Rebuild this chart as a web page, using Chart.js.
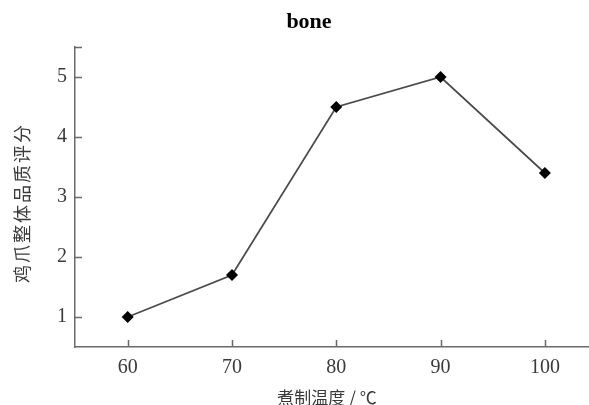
<!DOCTYPE html>
<html>
<head>
<meta charset="utf-8">
<script src="https://cdn.jsdelivr.net/npm/chart.js@4/dist/chart.umd.min.js"></script>
<style>
  html, body { margin: 0; padding: 0; background: #fff; }
  canvas { display: block; }
</style>
</head>
<body>
<canvas id="c" width="589" height="405"></canvas>
<script>
// Cooking temperature (°C) and the overall quality score of the chicken feet
const temperatures = [60, 70, 80, 90, 100];
const scores = [1.0, 1.7, 4.5, 5.0, 3.4];
const yTickValues = [1, 2, 3, 4, 5];
const xTickValues = [60, 70, 80, 90, 100];

const chartTitle = 'bone';
const xTitle = '煮制温度 / ℃';
const yTitle = '鸡爪整体品质评分';

const axisColor = '#6a6a6a';
const textColor = '#3a3a3a';

// Short tick marks pointing into the plot area, plus the titles
const decorations = {
  id: 'decorations',
  afterDraw(chart) {
    const { ctx, chartArea, scales } = chart;
    const x = scales.x, y = scales.y;
    ctx.save();
    ctx.strokeStyle = axisColor;
    ctx.lineWidth = 1.5;
    ctx.beginPath();
    yTickValues.concat([y.max]).forEach(v => {
      const py = Math.round(y.getPixelForValue(v)) + 0.5;
      ctx.moveTo(chartArea.left, py);
      ctx.lineTo(chartArea.left + 7, py);
    });
    xTickValues.forEach(v => {
      const px = Math.round(x.getPixelForValue(v)) + 0.5;
      ctx.moveTo(px, chartArea.bottom);
      ctx.lineTo(px, chartArea.bottom - 7);
    });
    ctx.stroke();

    ctx.fillStyle = '#000';
    ctx.textAlign = 'center';
    ctx.textBaseline = 'alphabetic';
    ctx.font = 'bold 22px "Liberation Serif", serif';
    ctx.fillText(chartTitle, 309, 28);

    ctx.fillStyle = textColor;
    ctx.textBaseline = 'middle';
    ctx.font = '17px "Noto Sans CJK SC", sans-serif';
    ctx.fillText(xTitle, 327, 398);

    ctx.translate(22, 203);
    ctx.rotate(-Math.PI / 2);
    ctx.font = '18px "Noto Sans CJK SC", sans-serif';
    ctx.letterSpacing = '2px';
    ctx.fillText(yTitle, 0, 0);
    ctx.restore();
  }
};

new Chart(document.getElementById('c'), {
  type: 'line',
  data: {
    datasets: [{
      data: temperatures.map((t, i) => ({ x: t, y: scores[i] })),
      borderColor: '#4a4a4a',
      borderWidth: 1.7,
      pointStyle: 'rectRot',
      pointRadius: 6,
      pointHoverRadius: 6,
      pointBackgroundColor: '#000',
      pointBorderColor: '#000',
      pointBorderWidth: 0,
      tension: 0,
      fill: false,
      clip: false
    }]
  },
  options: {
    responsive: false,
    animation: false,
    layout: { autoPadding: false, padding: { top: 47, right: 0, left: 0, bottom: 0 } },
    plugins: {
      legend: { display: false },
      title: { display: false },
      tooltip: { enabled: false }
    },
    scales: {
      x: {
        type: 'linear',
        min: 54.95,
        max: 104.23,
        afterBuildTicks(scale) { scale.ticks = xTickValues.map(v => ({ value: v })); },
        afterFit(scale) { scale.height = 58; scale.paddingLeft = 0; scale.paddingRight = 0; },
        grid: { display: false, drawTicks: false },
        border: { display: true, color: axisColor, width: 1.5 },
        ticks: {
          color: textColor,
          padding: 9,
          maxRotation: 0,
          font: { family: '"Liberation Serif", serif', size: 20 }
        }
      },
      y: {
        min: 0.5,
        max: 5.5,
        afterBuildTicks(scale) { scale.ticks = yTickValues.map(v => ({ value: v })); },
        afterFit(scale) { scale.width = 75; },
        grid: { display: false, drawTicks: false },
        border: { display: true, color: axisColor, width: 1.5 },
        ticks: {
          color: textColor,
          padding: 8,
          font: { family: '"Liberation Serif", serif', size: 20 }
        }
      }
    }
  },
  plugins: [decorations]
});
</script>
</body>
</html>
